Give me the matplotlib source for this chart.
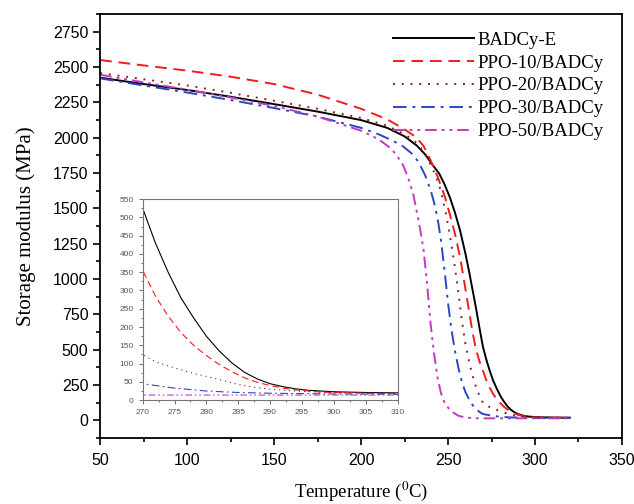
import matplotlib
matplotlib.use("Agg")
import matplotlib.pyplot as plt
from matplotlib.ticker import MultipleLocator

# data (temperature in C, storage modulus in MPa)
names = ["BADCy-E", "PPO-10/BADCy", "PPO-20/BADCy", "PPO-30/BADCy", "PPO-50/BADCy"]

t_e = [50, 75, 100, 125, 150, 175, 200, 215, 225, 232, 237, 241, 245, 248, 251, 254, 257, 260,
       262, 264, 266, 268, 270, 272, 274, 276, 278, 280, 282, 284, 286, 288, 290, 292, 294, 296,
       298, 300, 305, 310, 315, 320]
e_e = [2425, 2380, 2338, 2290, 2238, 2185, 2125, 2070, 2010, 1945, 1880, 1810, 1745, 1670, 1580,
       1470, 1340, 1180, 1060, 930, 800, 660, 525, 430, 350, 280, 225, 175, 135, 102, 76, 58, 45,
       37, 31, 27, 25, 23, 21, 20, 19, 19]

t_10 = [50, 75, 100, 125, 150, 175, 200, 215, 225, 232, 236, 240, 244, 248, 251, 254, 257, 260,
        262, 264, 266, 268, 270, 272, 274, 276, 278, 280, 282, 284, 286, 288, 290, 292, 294, 296,
        298, 300, 305, 310, 315, 320]
e_10 = [2550, 2512, 2475, 2432, 2380, 2305, 2205, 2130, 2060, 2000, 1940, 1840, 1725, 1590, 1460,
        1320, 1150, 930, 780, 630, 505, 420, 355, 285, 230, 185, 150, 122, 98, 78, 61, 49, 40,
        33, 28, 25, 22, 21, 19, 18, 18, 18]

t_20 = [50, 75, 100, 125, 150, 175, 200, 215, 225, 232, 236, 240, 243, 246, 249, 252, 254, 256,
        258, 260, 262, 264, 266, 268, 270, 272, 275, 278, 280, 283, 285, 288, 290, 295, 300, 305,
        310, 320]
e_20 = [2458, 2414, 2370, 2318, 2262, 2205, 2140, 2085, 2025, 1965, 1900, 1810, 1730, 1620, 1450,
        1240, 1080, 900, 700, 540, 420, 320, 240, 175, 125, 105, 88, 73, 65, 52, 43, 34, 30, 24,
        21, 20, 19, 19]

t_30 = [50, 75, 100, 125, 150, 175, 200, 210, 218, 224, 229, 233, 237, 240, 242, 244, 246, 248,
        250, 252, 254, 256, 258, 260, 262, 264, 266, 268, 270, 275, 280, 285, 290, 300, 310, 320]
e_30 = [2420, 2370, 2320, 2267, 2210, 2150, 2070, 2025, 1980, 1940, 1890, 1830, 1730, 1630, 1540,
        1430, 1270, 1060, 830, 640, 490, 370, 270, 200, 150, 110, 80, 60, 45, 33, 25, 21, 19, 17,
        16, 16]

t_50 = [50, 75, 100, 125, 150, 175, 200, 210, 216, 220, 224, 227, 230, 232, 234, 236, 238, 240,
        242, 244, 246, 248, 250, 253, 256, 260, 265, 270, 280, 290, 300, 310, 320]
e_50 = [2446, 2392, 2340, 2285, 2225, 2150, 2050, 1990, 1935, 1885, 1810, 1720, 1600, 1480, 1350,
        1200, 960, 680, 470, 300, 190, 125, 90, 55, 32, 20, 15, 14, 14, 14, 14, 14, 14]

temps = [t_e, t_10, t_20, t_30, t_50]
moduli = [e_e, e_10, e_20, e_30, e_50]
colors = ["black", "#f21c1c", "#8c1f1f", "#2a46c4", "#c23cbd"]
styles = ["-", (0, (6, 3.5)), (0, (1, 3.5)), (0, (7, 3, 1.5, 3)), (0, (6, 2.5, 1.5, 2.5, 1.5, 2.5))]

serif = "Liberation Serif"
sans = "Liberation Sans"
plt.rcParams["mathtext.fontset"] = "stix"

fig = plt.figure(figsize=(6.34, 5.04), dpi=100)
ax = fig.add_axes([0.158, 0.131, 0.823, 0.841])

for t, e, c, ls, lab in zip(temps, moduli, colors, styles, names):
    ax.plot(t, e, color=c, linestyle=ls, linewidth=1.4, label=lab)

ax.set_xlim(50, 350)
ax.set_ylim(-125, 2875)
ax.xaxis.set_major_locator(MultipleLocator(50))
ax.xaxis.set_minor_locator(MultipleLocator(25))
ax.yaxis.set_major_locator(MultipleLocator(250))
ax.yaxis.set_minor_locator(MultipleLocator(125))
ax.tick_params(which="both", direction="out", top=False, right=False, width=1.2)
ax.tick_params(which="major", length=5, labelsize=11.5)
ax.tick_params(axis="x", which="major", pad=6)
ax.tick_params(which="minor", length=3)
for lb in ax.get_xticklabels() + ax.get_yticklabels():
    lb.set_fontfamily(sans)
for sp in ax.spines.values():
    sp.set_linewidth(1.3)

ax.set_xlabel("Temperature ($^{0}$C)", fontfamily=serif, fontsize=13.5, labelpad=8)
ax.set_ylabel("Storage modulus (MPa)", fontfamily=serif, fontsize=15, labelpad=12)

leg = ax.legend(loc="upper right", frameon=False, prop={"family": serif, "size": 13.5},
                handlelength=4.3, handletextpad=0.2, labelspacing=0.31,
                borderaxespad=0.3, bbox_to_anchor=(0.99, 0.99))

# inset zoom on the rubbery plateau
axin = fig.add_axes([0.225, 0.206, 0.402, 0.399])
for t, e, c, ls in zip(temps, moduli, colors, styles):
    axin.plot(t, e, color=c, linestyle=ls, linewidth=0.8)
axin.set_xlim(270, 310)
axin.set_ylim(0, 550)
axin.xaxis.set_major_locator(MultipleLocator(5))
axin.xaxis.set_minor_locator(MultipleLocator(2.5))
axin.yaxis.set_major_locator(MultipleLocator(50))
axin.yaxis.set_minor_locator(MultipleLocator(25))
axin.tick_params(which="both", direction="out", top=False, right=False, colors="#555555",
                 labelsize=6, width=0.6)
axin.tick_params(which="major", length=3)
axin.tick_params(which="minor", length=1.5)
for lb in axin.get_xticklabels() + axin.get_yticklabels():
    lb.set_fontfamily(sans)
for sp in axin.spines.values():
    sp.set_color("#777777")
    sp.set_linewidth(0.8)

fig.savefig("out.png", dpi=100)
